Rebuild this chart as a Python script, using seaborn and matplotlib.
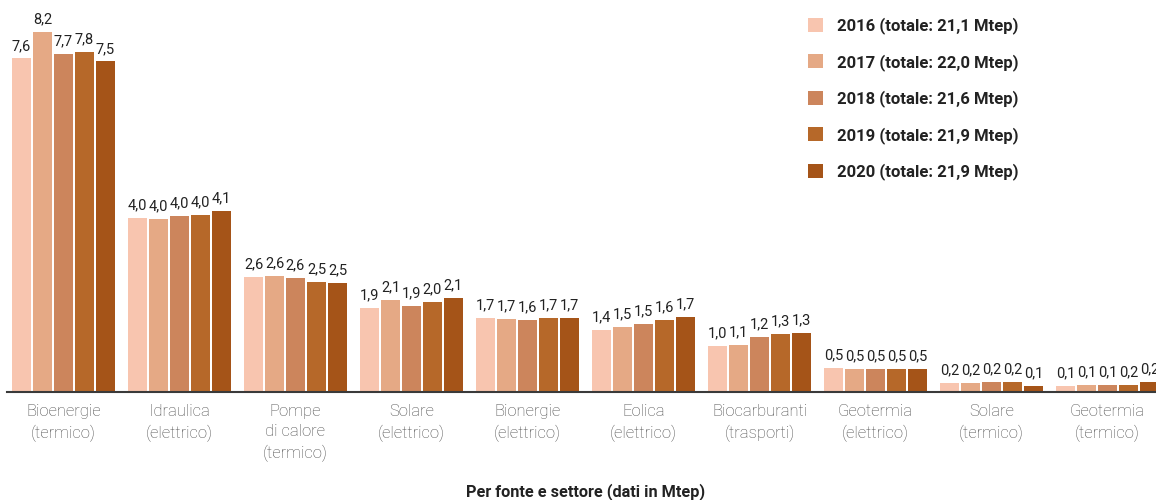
import matplotlib
matplotlib.use("Agg")
import matplotlib.pyplot as plt
import seaborn as sns
import pandas as pd

categories = ["Bioenergie\n(termico)", "Idraulica\n(elettrico)", "Pompe\ndi calore\n(termico)",
              "Solare\n(elettrico)", "Bionergie\n(elettrico)", "Eolica\n(elettrico)",
              "Biocarburanti\n(trasporti)", "Geotermia\n(elettrico)", "Solare\n(termico)",
              "Geotermia\n(termico)"]
years = ["2016 (totale: 21,1 Mtep)", "2017 (totale: 22,0 Mtep)", "2018 (totale: 21,6 Mtep)",
         "2019 (totale: 21,9 Mtep)", "2020 (totale: 21,9 Mtep)"]

v2016 = [7.59, 3.96, 2.61, 1.90, 1.67, 1.40, 1.04, 0.53, 0.20, 0.13]
v2017 = [8.20, 3.94, 2.63, 2.08, 1.65, 1.47, 1.06, 0.52, 0.20, 0.15]
v2018 = [7.70, 4.01, 2.59, 1.95, 1.63, 1.54, 1.24, 0.52, 0.22, 0.15]
v2019 = [7.74, 4.03, 2.49, 2.04, 1.67, 1.63, 1.31, 0.52, 0.22, 0.15]
v2020 = [7.52, 4.12, 2.47, 2.13, 1.67, 1.70, 1.33, 0.52, 0.13, 0.22]

l2016 = ["7,6", "4,0", "2,6", "1,9", "1,7", "1,4", "1,0", "0,5", "0,2", "0,1"]
l2017 = ["8,2", "4,0", "2,6", "2,1", "1,7", "1,5", "1,1", "0,5", "0,2", "0,1"]
l2018 = ["7,7", "4,0", "2,6", "1,9", "1,6", "1,5", "1,2", "0,5", "0,2", "0,1"]
l2019 = ["7,8", "4,0", "2,5", "2,0", "1,7", "1,6", "1,3", "0,5", "0,2", "0,2"]
l2020 = ["7,5", "4,1", "2,5", "2,1", "1,7", "1,7", "1,3", "0,5", "0,1", "0,2"]

colors = ["#F8C5AF", "#E5A985", "#CC855C", "#B66829", "#A55418"]

values = [v2016, v2017, v2018, v2019, v2020]
labels = [l2016, l2017, l2018, l2019, l2020]

rows = []
for y, vals in zip(years, values):
    for c, v in zip(categories, vals):
        rows.append({"cat": c, "year": y, "val": v})
df = pd.DataFrame(rows)

sns.set_style("white")
plt.rcParams["font.family"] = ["Roboto", "DejaVu Sans"]

W, H = 1156, 500
fig = plt.figure(figsize=(W / 100, H / 100), dpi=100)
ax = fig.add_axes([7 / W, 0.217, 1 - 7 / W, 0.783])

sns.barplot(data=df, x="cat", y="val", hue="year", order=categories, hue_order=years,
            palette=colors, width=0.905, gap=0.06, saturation=1, ax=ax, legend=True,
            edgecolor="none", linewidth=0)

for cont, lab in zip(ax.containers, labels):
    ax.bar_label(cont, labels=lab, padding=4, fontsize=10.5, color="#222222")

ax.set_xlim(-0.487, 9.418)
ax.set_ylim(0, 8.92)
ax.set_yticks([])
ax.set_ylabel("")
ax.set_xlabel("")
for s in ["top", "right", "left"]:
    ax.spines[s].set_visible(False)
ax.spines["bottom"].set_color("#3a3a3a")
ax.spines["bottom"].set_linewidth(1.5)
ax.tick_params(axis="x", length=0, pad=9)
for t in ax.get_xticklabels():
    t.set_fontsize(12)
    t.set_fontweight("light")
    t.set_color("#4a4a4a")
    t.set_linespacing(1.45)

handles, labs = ax.get_legend_handles_labels()
ax.legend(handles, labs, loc="upper left", bbox_to_anchor=(793 / W, 0.995),
          bbox_transform=fig.transFigure, frameon=False,
          prop={"weight": "bold", "size": 12}, labelcolor="#222222",
          handlelength=0.9, handleheight=0.9, handletextpad=0.84, labelspacing=1.17,
          borderaxespad=0.0, borderpad=0.9)

fig.text(586 / W, (H - 492) / H, "Per fonte e settore (dati in Mtep)", ha="center", va="center",
         fontsize=11.7, fontweight="bold", color="#222222")

fig.savefig("out.png", dpi=100)
